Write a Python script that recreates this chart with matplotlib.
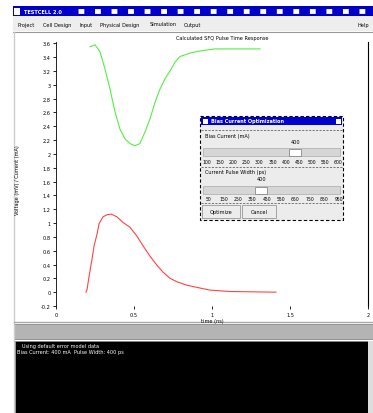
import matplotlib
matplotlib.use("Agg")
import matplotlib.pyplot as plt
from matplotlib.patches import Rectangle

# ---- data ----
t_out = [0.218, 0.25, 0.282, 0.314, 0.346, 0.378, 0.41, 0.442, 0.474, 0.506, 0.538,
         0.571, 0.603, 0.635, 0.667, 0.699, 0.731, 0.763, 0.795, 0.859, 0.923, 1.019, 1.308]
v_out = [3.55, 3.58, 3.48, 3.23, 2.94, 2.61, 2.36, 2.22, 2.15, 2.12, 2.15,
         2.32, 2.51, 2.75, 2.94, 3.09, 3.20, 3.33, 3.41, 3.46, 3.49, 3.52, 3.52]

t_cur = [0.192, 0.199, 0.212, 0.231, 0.244, 0.263, 0.276, 0.301, 0.327, 0.353, 0.391,
         0.429, 0.474, 0.519, 0.558, 0.603, 0.647, 0.686, 0.731, 0.776, 0.840, 0.923,
         0.987, 1.115, 1.410]
i_cur = [0.0, 0.04, 0.23, 0.48, 0.67, 0.84, 0.99, 1.09, 1.12, 1.13, 1.09,
         1.01, 0.94, 0.81, 0.67, 0.52, 0.39, 0.29, 0.20, 0.15, 0.10, 0.06,
         0.03, 0.01, 0.0]

y_ticks = [-0.2, 0, 0.2, 0.4, 0.6, 0.8, 1, 1.2, 1.4, 1.6, 1.8, 2, 2.2, 2.4,
           2.6, 2.8, 3, 3.2, 3.4, 3.6]
x_ticks = [0, 0.5, 1, 1.5, 2]

menu_items = ["Project", "Cell Design", "Input", "Physical Design", "Simulation", "Output"]
bias_labels = ["100", "150", "200", "250", "300", "350", "400", "450", "500", "550", "600"]
width_labels = ["50", "150", "250", "350", "450", "550", "650", "750", "850", "950"]
console_lines = ["Using default error model data",
                 "Bias Current: 400 mA  Pulse Width: 400 ps"]

W, H = 373, 414
fig = plt.figure(figsize=(W / 100, H / 100), dpi=100)
fig.patch.set_facecolor("white")
fs = 3.6


def px_axes(z):
    a = fig.add_axes([0, 0, 1, 1], zorder=z)
    a.set_xlim(0, W)
    a.set_ylim(H, 0)
    a.axis("off")
    a.patch.set_alpha(0)
    return a


def box(a, x0, y0, x1, y1, fc, ec="none", **kw):
    a.add_patch(Rectangle((x0, y0), x1 - x0, y1 - y0, facecolor=fc, edgecolor=ec, **kw))


# window chrome
bg = px_axes(0)
box(bg, 13, 7, W, 17, "#0000c8")
bg.plot([78, W], [12, 12], color="white", lw=3.5, dashes=(1.2, 2.2), solid_capstyle="butt")
box(bg, 14, 8.5, 20, 15.5, "white")
bg.text(24, 12, "TESTCELL 2.0", color="white", fontsize=fs, va="center", fontweight="bold")
box(bg, 13, 17, W, 32, "#eeeeee")
bg.plot([13, W], [32.5, 32.5], color="#999999", lw=0.8)
mx = [17, 43, 80, 100, 150, 184]
for x, s in zip(mx, menu_items):
    bg.text(x, 25, s, fontsize=fs, va="center")
bg.text(358, 25, "Help", fontsize=fs, va="center")
bg.plot([13.5, 13.5], [33, H], color="#cccccc", lw=1)
bg.text(222, 38.5, "Calculated SFQ Pulse Time Response", fontsize=fs, ha="center", va="center")
bg.text(18, 180, "Voltage (mV) / Current (mA)", fontsize=fs, rotation=90, ha="center", va="center")

# status bar and console
bg.plot([14, W], [323, 323], color="#aaaaaa", lw=1)
box(bg, 14, 325, W, 340, "#b4b4b4", ec="#888888", lw=0.6)
box(bg, 15, 342, 368, H, "black", ec="#888888", lw=0.6)
box(bg, 368, 342, W, H, "#dddddd")
bg.text(22, 347, console_lines[0], color="white", fontsize=fs, va="center")
bg.text(17, 353, console_lines[1], color="white", fontsize=fs, va="center")

# plot
L, R, T, B = 56, 368, 43, 307
ax = fig.add_axes([L / W, 1 - B / H, (R - L) / W, (B - T) / H], zorder=1)
ax.patch.set_alpha(0)
ax.plot(t_out, v_out, color="#55ee44", lw=0.8)
ax.plot(t_cur, i_cur, color="#ff4444", lw=0.8)
ax.set_xlim(0, 2)
ax.set_ylim(-0.2, 3.62)
ax.set_yticks(y_ticks)
ax.set_yticklabels([f"{v:g}" for v in y_ticks])
ax.set_xticks(x_ticks)
ax.set_xticklabels([f"{v:g}" for v in x_ticks])
ax.tick_params(labelsize=fs, length=2, width=0.6, pad=2)
ax.spines["top"].set_visible(False)
ax.spines["bottom"].set_visible(False)
ax.spines["left"].set_linewidth(0.6)
ax.spines["right"].set_linewidth(0.8)
ax.set_xlabel("time (ns)", fontsize=fs, labelpad=1)

# dialog
dl = px_axes(2)
box(dl, 200, 117, 343, 221, "#ececec", ec="black", lw=0.8, linestyle=(0, (3, 2)))
box(dl, 201, 118, 342, 126, "#0000d0")
box(dl, 203, 119.5, 208, 124.5, "white")
box(dl, 336, 119.5, 341, 124.5, "white")
dl.text(211, 122, "Bias Current Optimization", color="white", fontsize=fs, va="center", fontweight="bold")
dl.plot([201, 342], [131, 131], color="#444444", lw=0.5, linestyle=(0, (3, 2)))
dl.text(205, 137, "Bias Current (mA)", fontsize=fs, va="center")
dl.text(296, 143, "400", fontsize=fs, va="center", ha="center")
box(dl, 203, 149, 340, 157, "#d6d6d6", ec="#aaaaaa", lw=0.5)
box(dl, 289, 149.5, 301, 156.5, "white", ec="#777777", lw=0.5)
for i, s in enumerate(bias_labels):
    dl.text(207 + i * 13.1, 163, s, fontsize=3.3, va="center", ha="center")
dl.plot([201, 342], [168, 168], color="#444444", lw=0.5, linestyle=(0, (3, 2)))
dl.text(205, 173, "Current Pulse Width (ps)", fontsize=fs, va="center")
dl.text(262, 180, "400", fontsize=fs, va="center", ha="center")
box(dl, 203, 187, 340, 195, "#d6d6d6", ec="#aaaaaa", lw=0.5)
box(dl, 255, 187.5, 267, 194.5, "white", ec="#777777", lw=0.5)
for i, s in enumerate(width_labels):
    dl.text(209 + i * 14.4, 200, s, fontsize=3.3, va="center", ha="center")
dl.plot([201, 342], [204, 204], color="#444444", lw=0.5, linestyle=(0, (3, 2)))
box(dl, 202, 206, 240, 219, "#ececec", ec="#999999", lw=0.6)
box(dl, 242, 206, 276, 219, "#ececec", ec="#999999", lw=0.6)
dl.text(221, 212.5, "Optimize", fontsize=fs, va="center", ha="center")
dl.text(259, 212.5, "Cancel", fontsize=fs, va="center", ha="center")

fig.savefig("out.png", dpi=100)
